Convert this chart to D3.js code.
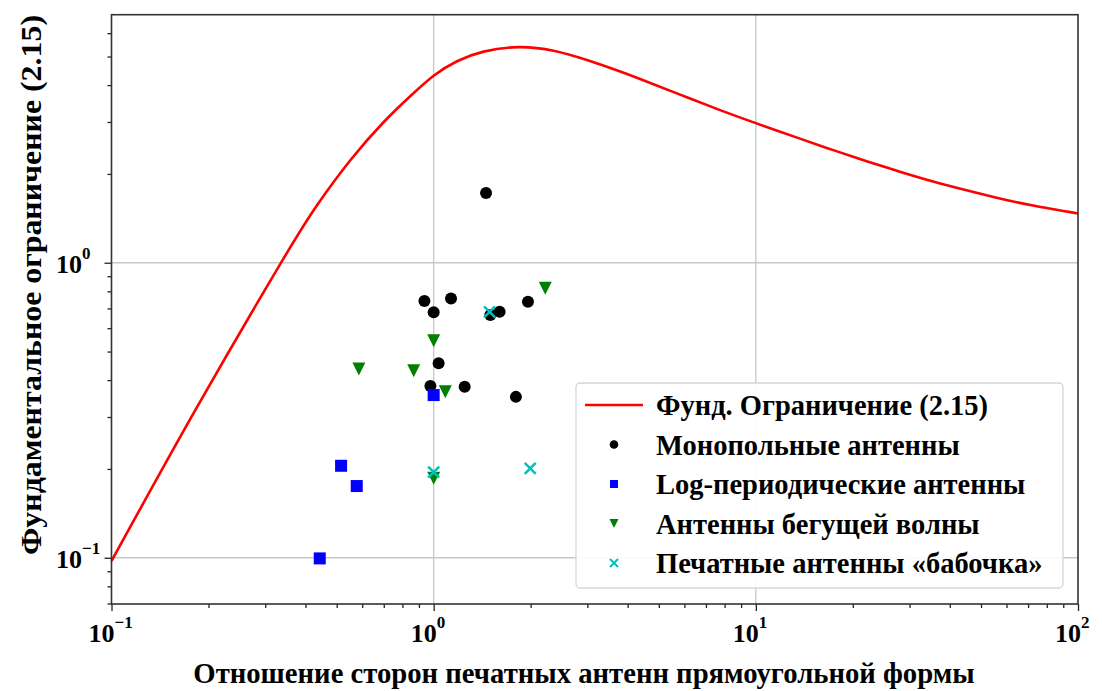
<!DOCTYPE html>
<html>
<head>
<meta charset="utf-8">
<script src="https://cdn.jsdelivr.net/npm/d3@7"></script>
<style>
  body { margin: 0; background: #fff; }
  text { font-family: "Liberation Serif", "Times New Roman", serif; font-weight: bold; }
</style>
</head>
<body>
<svg id="chart" width="1102" height="691"></svg>
<script>
// curve (ratio, bound)
const limitX = [0.1, 0.1837, 0.335, 0.435, 0.552, 0.70, 0.847, 1.0, 1.182, 1.429, 1.83, 2.356, 2.99, 3.793, 4.811, 6.107, 7.745, 10.0, 13.71, 17.39, 22.07, 28.0, 35.51, 45.07, 57.18, 72.53, 100];
const limitY = [0.0975, 0.322, 0.995, 1.569, 2.229, 2.999, 3.674, 4.305, 4.82, 5.195, 5.381, 5.232, 4.866, 4.448, 4.028, 3.637, 3.291, 2.973, 2.634, 2.408, 2.209, 2.036, 1.886, 1.761, 1.652, 1.563, 1.469];

const monoX = [1.454, 0.936, 1.132, 1.0, 1.499, 1.602, 1.962, 1.036, 0.977, 1.248, 1.80];
const monoY = [1.722, 0.742, 0.757, 0.679, 0.665, 0.682, 0.738, 0.456, 0.382, 0.380, 0.351];

const logperX = [1.0, 0.516, 0.577, 0.443];
const logperY = [0.356, 0.205, 0.175, 0.0995];

const travX = [2.22, 1.0, 0.586, 0.867, 1.087, 1.0];
const travY = [0.819, 0.544, 0.436, 0.430, 0.365, 0.186];

const bowX = [1.491, 1.0, 1.994];
const bowY = [0.682, 0.195, 0.201];

const xMajor = [0.1, 1, 10, 100];
const xExp = ["\u22121", "0", "1", "2"];
const yMajor = [0.1, 1];
const yExp = ["\u22121", "0"];

const legendLabels = [
  "Фунд. Ограничение (2.15)",
  "Монопольные антенны",
  "Log-периодические антенны",
  "Антенны бегущей волны",
  "Печатные антенны «бабочка»"
];

const svg = d3.select("#chart");
const pLeft = 111.5, pRight = 1078, pTop = 14.7, pBottom = 604;

const x = d3.scaleLog().domain([0.1, 100]).range([pLeft, pRight]);
const y = d3.scaleLog().domain([0.0697, 6.93]).range([pBottom, pTop]);

function minors(lo, hi) {
  const out = [];
  for (let e = lo; e < hi; e++) {
    for (let k = 2; k <= 9; k++) out.push(k * Math.pow(10, e));
  }
  return out;
}
const xMinor = minors(-1, 2);
const yMinor = minors(-2, 1).filter(v => v > 0.0697 && v < 6.93);

// grid
const grid = svg.append("g").attr("stroke", "#c8c8c8").attr("stroke-width", 1.3);
[1, 10].forEach(v => grid.append("line").attr("x1", x(v)).attr("x2", x(v)).attr("y1", pTop).attr("y2", pBottom));
yMajor.forEach(v => grid.append("line").attr("x1", pLeft).attr("x2", pRight).attr("y1", y(v)).attr("y2", y(v)));

// the bound curve
const line = d3.line()
  .x(d => x(d[0]))
  .y(d => y(d[1]))
  .curve(d3.curveNatural);
svg.append("path")
  .datum(limitX.map((v, i) => [v, limitY[i]]))
  .attr("d", line)
  .attr("fill", "none")
  .attr("stroke", "#ff0000")
  .attr("stroke-width", 2.6);

// markers
const r = 6;
svg.append("g").selectAll("circle")
  .data(monoX.map((v, i) => [v, monoY[i]]))
  .enter().append("circle")
  .attr("cx", d => x(d[0])).attr("cy", d => y(d[1]))
  .attr("r", r).attr("fill", "#000");

svg.append("g").selectAll("rect")
  .data(logperX.map((v, i) => [v, logperY[i]]))
  .enter().append("rect")
  .attr("x", d => x(d[0]) - 6).attr("y", d => y(d[1]) - 6)
  .attr("width", 12).attr("height", 12).attr("fill", "#0000ff");

const tri = s => `M${-s},${-s}L${s},${-s}L0,${s}Z`;
svg.append("g").selectAll("path")
  .data(travX.map((v, i) => [v, travY[i]]))
  .enter().append("path")
  .attr("transform", d => `translate(${x(d[0])},${y(d[1])})`)
  .attr("d", tri(6.5)).attr("fill", "#008000");

const cross = s => `M${-s},${-s}L${s},${s}M${-s},${s}L${s},${-s}`;
svg.append("g").selectAll("path")
  .data(bowX.map((v, i) => [v, bowY[i]]))
  .enter().append("path")
  .attr("transform", d => `translate(${x(d[0])},${y(d[1])})`)
  .attr("d", cross(5.5)).attr("stroke", "#00bfbf").attr("stroke-width", 2.5).attr("fill", "none");

// axes
const tickStyle = g => g.call(g => g.select(".domain").remove())
  .selectAll("line").attr("stroke", "#222").attr("stroke-width", 1.3);

svg.append("g").attr("transform", `translate(0,${pBottom})`)
  .call(d3.axisBottom(x).tickValues(xMajor).tickSize(7).tickFormat(""))
  .call(tickStyle);
svg.append("g").attr("transform", `translate(0,${pBottom})`)
  .call(d3.axisBottom(x).tickValues(xMinor).tickSize(4).tickFormat(""))
  .call(tickStyle);
svg.append("g").attr("transform", `translate(${pLeft},0)`)
  .call(d3.axisLeft(y).tickValues(yMajor).tickSize(7).tickFormat(""))
  .call(tickStyle);
svg.append("g").attr("transform", `translate(${pLeft},0)`)
  .call(d3.axisLeft(y).tickValues(yMinor).tickSize(4).tickFormat(""))
  .call(tickStyle);

svg.append("rect")
  .attr("x", pLeft).attr("y", pTop)
  .attr("width", pRight - pLeft).attr("height", pBottom - pTop)
  .attr("fill", "none").attr("stroke", "#333").attr("stroke-width", 1.6);

// tick labels
xMajor.forEach((v, i) => {
  const t = svg.append("text")
    .attr("x", x(v) - 23).attr("y", 642)
    .attr("font-size", 26);
  t.append("tspan").text("10");
  t.append("tspan").attr("dy", -14).attr("font-size", 17).text(xExp[i]);
});
yMajor.forEach((v, i) => {
  const t = svg.append("text")
    .attr("x", 56).attr("y", y(v) + 10)
    .attr("font-size", 26);
  t.append("tspan").text("10");
  t.append("tspan").attr("dy", -14).attr("font-size", 17).text(yExp[i]);
});

// axis titles
svg.append("text")
  .attr("x", 584).attr("y", 683)
  .attr("text-anchor", "middle").attr("font-size", 28.7)
  .text("Отношение сторон печатных антенн прямоугольной формы");
svg.append("text")
  .attr("transform", `translate(41,285) rotate(-90)`)
  .attr("text-anchor", "middle").attr("font-size", 28.7)
  .attr("textLength", 540).attr("lengthAdjust", "spacingAndGlyphs")
  .text("Фундаментальное ограничение (2.15)");

// legend
const lg = svg.append("g");
lg.append("rect")
  .attr("x", 576).attr("y", 383).attr("width", 487).attr("height", 205)
  .attr("rx", 4).attr("fill", "#fff").attr("fill-opacity", 0.9)
  .attr("stroke", "#d6d6d6").attr("stroke-width", 1.3);
const rowY = i => 405 + i * 39.5;
legendLabels.forEach((lab, i) => {
  lg.append("text").attr("x", 656).attr("y", rowY(i) + 10).attr("font-size", 28.5).text(lab);
});
lg.append("line").attr("x1", 585).attr("x2", 643).attr("y1", rowY(0)).attr("y2", rowY(0))
  .attr("stroke", "#ff0000").attr("stroke-width", 2.6);
lg.append("circle").attr("cx", 614).attr("cy", rowY(1)).attr("r", 4.3).attr("fill", "#000");
lg.append("rect").attr("x", 610).attr("y", rowY(2) - 4).attr("width", 8).attr("height", 8).attr("fill", "#0000ff");
lg.append("path").attr("transform", `translate(614,${rowY(3)})`).attr("d", tri(4.5)).attr("fill", "#008000");
lg.append("path").attr("transform", `translate(614,${rowY(4)})`).attr("d", cross(4))
  .attr("stroke", "#00bfbf").attr("stroke-width", 2).attr("fill", "none");
</script>
</body>
</html>
